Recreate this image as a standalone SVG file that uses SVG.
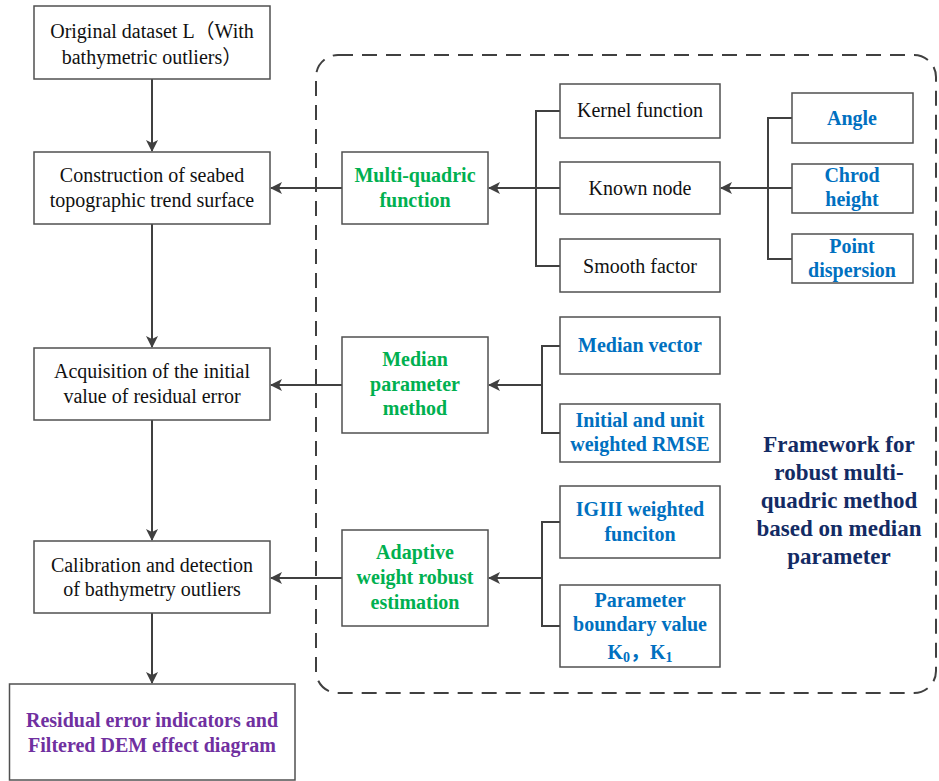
<svg xmlns="http://www.w3.org/2000/svg" width="939" height="781" viewBox="0 0 939 781">
<defs>
<marker id="ah" markerWidth="12" markerHeight="12" refX="11" refY="6" orient="auto" markerUnits="userSpaceOnUse">
<path d="M0,0 L12,6 L0,12 L3,6 Z" fill="#404040"/>
</marker>
<style>
.box{fill:#fff;stroke:#505050;stroke-width:1.5}
text{font-family:"Liberation Serif","Noto Sans CJK SC",serif;text-anchor:middle;font-size:20px}
.t{fill:#111}
.b{font-weight:bold}
.g{fill:#00b050}
.bl{fill:#0070c0}
.p{fill:#7030a0}
.n{fill:#132b64;font-size:23px}
.c{fill:none;stroke:#404040;stroke-width:2}
</style>
</defs>
<rect x="316" y="55" width="620" height="638" rx="22" fill="none" stroke="#404040" stroke-width="2" stroke-dasharray="15,9"/>
<g id="connectors">
<line class="c" x1="152" y1="79" x2="152" y2="151" marker-end="url(#ah)"/>
<line class="c" x1="152" y1="224" x2="152" y2="347" marker-end="url(#ah)"/>
<line class="c" x1="152" y1="420" x2="152" y2="540" marker-end="url(#ah)"/>
<line class="c" x1="152" y1="613" x2="152" y2="683" marker-end="url(#ah)"/>
<line class="c" x1="342" y1="188" x2="271" y2="188" marker-end="url(#ah)"/>
<line class="c" x1="342" y1="385" x2="271" y2="385" marker-end="url(#ah)"/>
<line class="c" x1="342" y1="578" x2="271" y2="578" marker-end="url(#ah)"/>
<polyline class="c" points="560,111 536,111 536,266 560,266"/>
<line class="c" x1="560" y1="188" x2="489" y2="188" marker-end="url(#ah)"/>
<polyline class="c" points="792,118 768,118 768,259 792,259"/>
<line class="c" x1="792" y1="188" x2="721" y2="188" marker-end="url(#ah)"/>
<polyline class="c" points="560,346 542,346 542,433 560,433"/>
<line class="c" x1="542" y1="385" x2="489" y2="385" marker-end="url(#ah)"/>
<polyline class="c" points="560,522 542,522 542,626 560,626"/>
<line class="c" x1="542" y1="578" x2="489" y2="578" marker-end="url(#ah)"/>
</g>
<g id="n1"><rect class="box" x="34" y="6" width="236" height="73"/><text class="t" x="152" y="38">Original dataset L（With</text><text class="t" x="152" y="64">bathymetric outliers）</text></g>
<g id="n2"><rect class="box" x="34" y="152" width="236" height="72"/><text class="t" x="152" y="182">Construction of seabed</text><text class="t" x="152" y="207">topographic trend surface</text></g>
<g id="n3"><rect class="box" x="34" y="348" width="236" height="72"/><text class="t" x="152" y="378">Acquisition of the initial</text><text class="t" x="152" y="403">value of residual error</text></g>
<g id="n4"><rect class="box" x="34" y="541" width="236" height="72"/><text class="t" x="152" y="572">Calibration and detection</text><text class="t" x="152" y="596">of bathymetry outliers</text></g>
<g id="n5"><rect class="box" x="9.5" y="684" width="285.5" height="96"/><text class="b p" x="152" y="727">Residual error indicators and</text><text class="b p" x="152" y="752">Filtered DEM effect diagram</text></g>
<g id="mq"><rect class="box" x="342" y="152" width="146" height="72"/><text class="b g" x="415" y="182">Multi-quadric</text><text class="b g" x="415" y="207">function</text></g>
<g id="kf"><rect class="box" x="560" y="84" width="160" height="54"/><text class="t" x="640" y="117">Kernel function</text></g>
<g id="kn"><rect class="box" x="560" y="162" width="160" height="52"/><text class="t" x="640" y="195">Known node</text></g>
<g id="sf"><rect class="box" x="560" y="239" width="160" height="53"/><text class="t" x="640" y="273">Smooth factor</text></g>
<g id="angle"><rect class="box" x="792" y="93" width="121" height="50"/><text class="b bl" x="852" y="125">Angle</text></g>
<g id="chrod"><rect class="box" x="792" y="164" width="121" height="49"/><text class="b bl" x="852" y="182">Chrod</text><text class="b bl" x="852" y="206">height</text></g>
<g id="pd"><rect class="box" x="792" y="234" width="121" height="49"/><text class="b bl" x="852" y="253">Point</text><text class="b bl" x="852" y="277">dispersion</text></g>
<g id="mp"><rect class="box" x="342" y="337" width="146" height="96"/><text class="b g" x="415" y="366">Median</text><text class="b g" x="415" y="391">parameter</text><text class="b g" x="415" y="415">method</text></g>
<g id="mv"><rect class="box" x="560" y="317" width="160" height="57"/><text class="b bl" x="640" y="352">Median vector</text></g>
<g id="iu"><rect class="box" x="560" y="404" width="160" height="58"/><text class="b bl" x="640" y="427">Initial and unit</text><text class="b bl" x="640" y="451">weighted RMSE</text></g>
<g id="aw"><rect class="box" x="342" y="530" width="146" height="96"/><text class="b g" x="415" y="559">Adaptive</text><text class="b g" x="415" y="584">weight robust</text><text class="b g" x="415" y="609">estimation</text></g>
<g id="ig"><rect class="box" x="560" y="486" width="160" height="72"/><text class="b bl" x="640" y="516">IGIII weighted</text><text class="b bl" x="640" y="541">funciton</text></g>
<g id="pb"><rect class="box" x="560" y="585" width="160" height="82"/><text class="b bl" x="640" y="607">Parameter</text><text class="b bl" x="640" y="631">boundary value</text><text class="b bl" x="640" y="659">K<tspan font-size="14" dy="3">0</tspan><tspan dy="-3">，</tspan>K<tspan font-size="14" dy="3">1</tspan></text></g>
<g id="fw"><text class="b n" x="839" y="452">Framework for</text><text class="b n" x="839" y="480">robust multi-</text><text class="b n" x="839" y="508">quadric method</text><text class="b n" x="839" y="536">based on median</text><text class="b n" x="839" y="564">parameter</text></g>
</svg>
